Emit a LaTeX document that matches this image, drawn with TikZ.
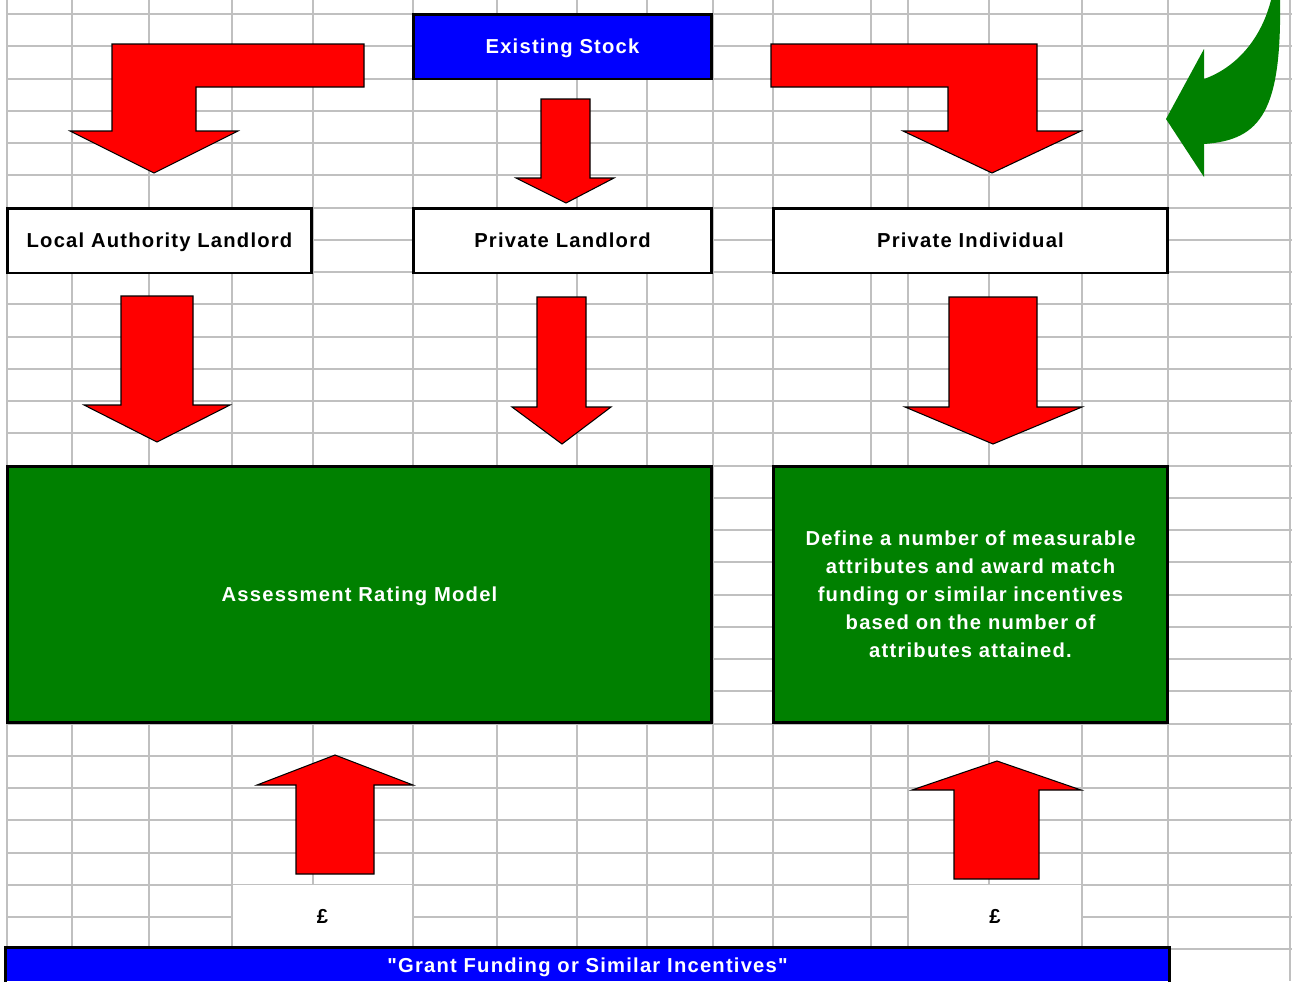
\documentclass[tikz,border=0pt]{standalone}
\usepackage{fontspec}
\usepackage{tikz}
\newfontfamily\xlfont[LetterSpace=6]{Liberation Sans}
\definecolor{gridgray}{HTML}{C0C0C0}
\definecolor{xlgreen}{HTML}{008000}
\definecolor{xlblue}{HTML}{0000FF}
\definecolor{xlred}{HTML}{FF0000}

\begin{document}
\begin{tikzpicture}[
    x=0.02cm, y=-0.02cm,
    gridline/.style={draw=gridgray, line width=1.1pt},
    cellfont/.style={font=\xlfont\bfseries\fontsize{11.5}{16}\selectfont},
    oneline/.style={text height=8.2pt, text depth=0pt},
    bluebox/.style={rectangle, draw=black, line width=1.7pt, fill=xlblue,
                text=white, cellfont, oneline, minimum height=1.3cm, inner sep=0pt},
    ownerbox/.style={rectangle, draw=black, line width=1.7pt, fill=white,
                text=black, cellfont, oneline, minimum height=1.3cm, inner sep=0pt},
    modelbox/.style={rectangle, draw=black, line width=1.7pt, fill=xlgreen,
                text=white, cellfont, minimum height=5.14cm, inner sep=0pt, align=center},
    poundcell/.style={rectangle, fill=white, text=black, cellfont, oneline,
                minimum height=1.26cm, inner sep=0pt},
    blockarrow/.style={fill=xlred, draw=black, line width=0.6pt, line join=miter},
]
\useasboundingbox (0,0) rectangle (1292,981);
% sheet grid
\foreach \k in {0,...,29} {
    \pgfmathsetmacro\rowy{round(14+32.25*\k)}
    \draw[gridline] (7, \rowy) -- (1292, \rowy);
}
\foreach \x in {7, 72, 149, 232, 313, 413, 497, 577, 647, 713, 773, 871, 908, 989, 1082, 1168, 1290}
    \draw[gridline] (\x, 0) -- (\x, 981);
% merged cells
\node[poundcell, minimum width=3.58cm] (poundL) at (322.5, 916.5) {£};
\node[poundcell, minimum width=3.44cm] (poundR) at (995, 916.5) {£};
% boxes
\node[bluebox, minimum width=5.98cm]  (stock)   at (562.5, 46.5)  {Existing Stock};
\node[ownerbox, minimum width=6.1cm]  (lal)     at (159.5, 240.5) {Local Authority Landlord};
\node[ownerbox, minimum width=5.98cm] (privlan) at (562.5, 240.5) {Private Landlord};
\node[ownerbox, minimum width=7.9cm]  (privind) at (970.5, 240.5) {Private Individual};
\node[modelbox, oneline, minimum width=14.1cm] (arm) at (359.5, 594.5) {Assessment Rating Model};
\node[modelbox, minimum width=7.9cm]  (attrib)  at (970.5, 594.5)
    {Define a number of measurable\\attributes and award match\\funding or similar incentives\\based on the number of\\attributes attained.};
\node[bluebox, draw=none, minimum width=23.22cm, minimum height=0.64cm] (grant) at (587.5, 965)
    {"Grant Funding or Similar Incentives"};
\draw[line width=1.7pt] (grant.south west) -- (grant.north west) -- (grant.north east) -- (grant.south east);
% block arrows
\draw[blockarrow] (364,44) -- (112,44) -- (112,131) -- (70,131) -- (154,173) -- (238,131)
    -- (196,131) -- (196,87) -- (364,87) -- cycle;
\draw[blockarrow] (541,99) -- (590,99) -- (590,178) -- (614,178) -- (566,203) -- (516,178)
    -- (541,178) -- cycle;
\draw[blockarrow] (771,44) -- (1037,44) -- (1037,131) -- (1081,131) -- (992,173) -- (903,131)
    -- (948,131) -- (948,87) -- (771,87) -- cycle;
\draw[blockarrow] (121,296) -- (193,296) -- (193,405) -- (230,405) -- (157,442) -- (84,405)
    -- (121,405) -- cycle;
\draw[blockarrow] (537,297) -- (586,297) -- (586,407) -- (611,407) -- (562,444) -- (512,407)
    -- (537,407) -- cycle;
\draw[blockarrow] (949,297) -- (1037,297) -- (1037,407) -- (1082,407) -- (993,444) -- (905,407)
    -- (949,407) -- cycle;
\draw[blockarrow] (296,874) -- (296,785) -- (257,785) -- (335,755) -- (413,785) -- (374,785)
    -- (374,874) -- cycle;
\draw[blockarrow] (954,879) -- (954,790) -- (912,790) -- (997,761) -- (1081,790) -- (1039,790)
    -- (1039,879) -- cycle;
% curved arrow
\fill[xlgreen] (1272,-4) .. controls (1262,40) and (1235,68) .. (1204,79) -- (1204,49)
    -- (1166,119) -- (1204,177) -- (1204,144) .. controls (1262,140) and (1282,110) .. (1280,-4) -- cycle;
\end{tikzpicture}
\end{document}
